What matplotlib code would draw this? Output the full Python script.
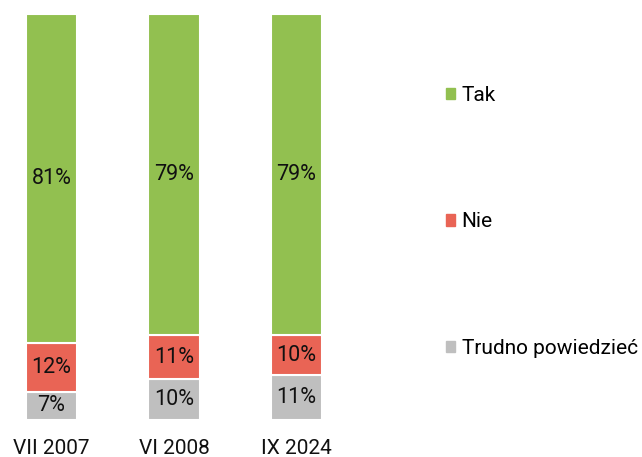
import matplotlib
matplotlib.use("Agg")
import matplotlib.pyplot as plt
from matplotlib.patches import Patch

plt.rcParams['font.family'] = ['Roboto', 'DejaVu Sans']

categories = ["VII 2007", "VI 2008", "IX 2024"]
series_names = ["Tak", "Nie", "Trudno powiedzieć"]
tak = [81, 79, 79]
nie = [12, 11, 10]
trudno = [7, 10, 11]
colors = ["#92C050", "#E96455", "#BFBFBF"]

fig = plt.figure(figsize=(6.42, 4.57), dpi=100)
ax = fig.add_axes([0.0, 37/457, 348/642, 406/457])

x = list(range(len(categories)))
stack = [trudno, nie, tak]
stack_colors = [colors[2], colors[1], colors[0]]
bottom = [0, 0, 0]
for vals, col in zip(stack, stack_colors):
    ax.bar(x, vals, bottom=bottom, width=0.42, color=col,
           edgecolor="white", linewidth=1.5)
    for xi, v, b in zip(x, vals, bottom):
        ax.text(xi, b + v / 2, f"{v}%", ha="center", va="center",
                fontsize=15.5, color="#111111")
    bottom = [b + v for b, v in zip(bottom, vals)]

ax.set_xlim(-0.42, 2.42)
ax.set_ylim(0, 100)
ax.set_xticks(x)
ax.set_xticklabels(categories, fontsize=15, color="#111111")
ax.tick_params(axis="x", length=0, pad=14)
ax.set_yticks([])
for s in ax.spines.values():
    s.set_visible(False)

handles = [Patch(color=c, label=n) for c, n in zip(colors, series_names)]
fig.legend(handles=handles, loc="center left", bbox_to_anchor=(446/642, 1 - 222/457),
           frameon=False, fontsize=15, handlelength=0.45, handleheight=0.45,
           handletextpad=0.3, labelspacing=5.15, borderaxespad=0, borderpad=0)

fig.savefig("out.png", dpi=100)
